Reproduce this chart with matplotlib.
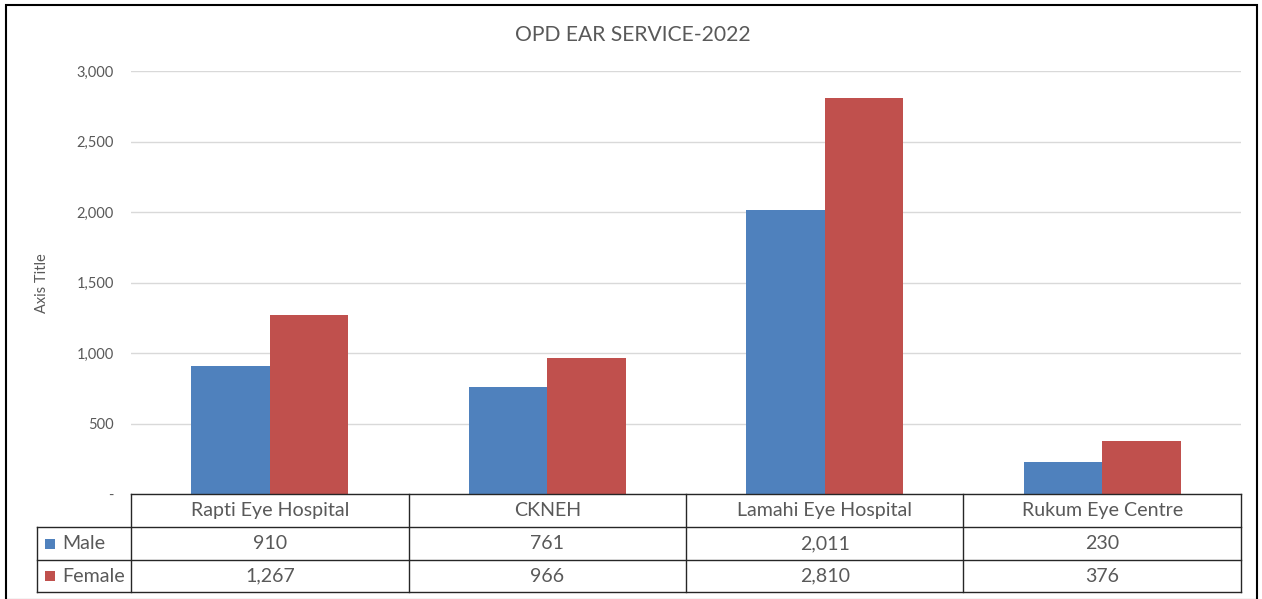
import matplotlib
matplotlib.use("Agg")
import matplotlib.pyplot as plt
from matplotlib.lines import Line2D
from matplotlib.patches import Rectangle

categories = ["Rapti Eye Hospital", "CKNEH", "Lamahi Eye Hospital", "Rukum Eye Centre"]
series_names = ["Male", "Female"]
male = [910, 761, 2011, 230]
female = [1267, 966, 2810, 376]
yticks = [0, 500, 1000, 1500, 2000, 2500, 3000]
ytick_labels = ["-", "500", "1,000", "1,500", "2,000", "2,500", "3,000"]
title = "OPD EAR SERVICE-2022"
ylabel = "Axis Title"

colors = ["#4F81BD", "#C0504D"]
text_color = "#595959"
FONT = ["Lato", "DejaVu Sans"]
plt.rcParams["font.family"] = FONT

W, H = 1262, 599
fig = plt.figure(figsize=(W / 100, H / 100), dpi=100)

def fx(px):
    return px / W

def fy(py):
    return 1 - py / H

L, R, T, B = 131, 1241, 71, 494
ax = fig.add_axes([fx(L), fy(B), fx(R - L), fy(T) - fy(B)])

n = len(categories)
xs = list(range(n))
bw = 0.283
ax.bar([x - bw / 2 for x in xs], male, width=bw, color=colors[0], zorder=3)
ax.bar([x + bw / 2 for x in xs], female, width=bw, color=colors[1], zorder=3)
ax.set_xlim(-0.5, n - 0.5)
ax.set_ylim(0, 3000)
ax.set_yticks(yticks)
ax.set_yticklabels(ytick_labels, color=text_color, fontsize=10.5)
ax.set_xticks([])
ax.tick_params(axis="y", length=0, pad=12.5)
ax.grid(axis="y", color="#D9D9D9", linewidth=1, zorder=0)
for s in ax.spines.values():
    s.set_visible(False)

fig.text(fx(633), fy(35), title, ha="center", va="center", fontsize=15.2, color=text_color)
fig.text(fx(42), fy(283), ylabel, ha="center", va="center", rotation=90, fontsize=10.5, color=text_color)

# Data table
line_c = "#262626"
def hline(y, x0, x1):
    fig.add_artist(Line2D([fx(x0), fx(x1)], [fy(y), fy(y)], color=line_c, lw=1))

def vline(x, y0, y1):
    fig.add_artist(Line2D([fx(x), fx(x)], [fy(y0), fy(y1)], color=line_c, lw=1))

rows_y = [494, 527, 560, 592]
col_x = [L + (R - L) * i / n for i in range(n + 1)]
left_x = 37
hline(rows_y[0], L, R)
for y in rows_y[1:]:
    hline(y, left_x, R)
for x in col_x:
    vline(x, rows_y[0], rows_y[3])
vline(left_x, rows_y[1], rows_y[3])

fs = 14.1
for i, cat in enumerate(categories):
    cx = (col_x[i] + col_x[i + 1]) / 2
    fig.text(fx(cx), fy((rows_y[0] + rows_y[1]) / 2), cat, ha="center", va="center",
             fontsize=fs, color=text_color)
    fig.text(fx(cx), fy((rows_y[1] + rows_y[2]) / 2), f"{male[i]:,}", ha="center", va="center",
             fontsize=fs, color=text_color)
    fig.text(fx(cx), fy((rows_y[2] + rows_y[3]) / 2), f"{female[i]:,}", ha="center", va="center",
             fontsize=fs, color=text_color)

for j, name in enumerate(series_names):
    cy = (rows_y[j + 1] + rows_y[j + 2]) / 2
    fig.add_artist(Rectangle((fx(45), fy(cy + 5)), fx(10), fy(cy - 5) - fy(cy + 5),
                             color=colors[j], lw=0))
    fig.text(fx(62), fy(cy), name, ha="left", va="center", fontsize=fs, color=text_color)

# outer border
fig.add_artist(Rectangle((fx(6), fy(600)), fx(1257 - 6), fy(5) - fy(600),
                         fill=False, edgecolor="black", lw=1.5))

fig.savefig("out.png", dpi=100)
